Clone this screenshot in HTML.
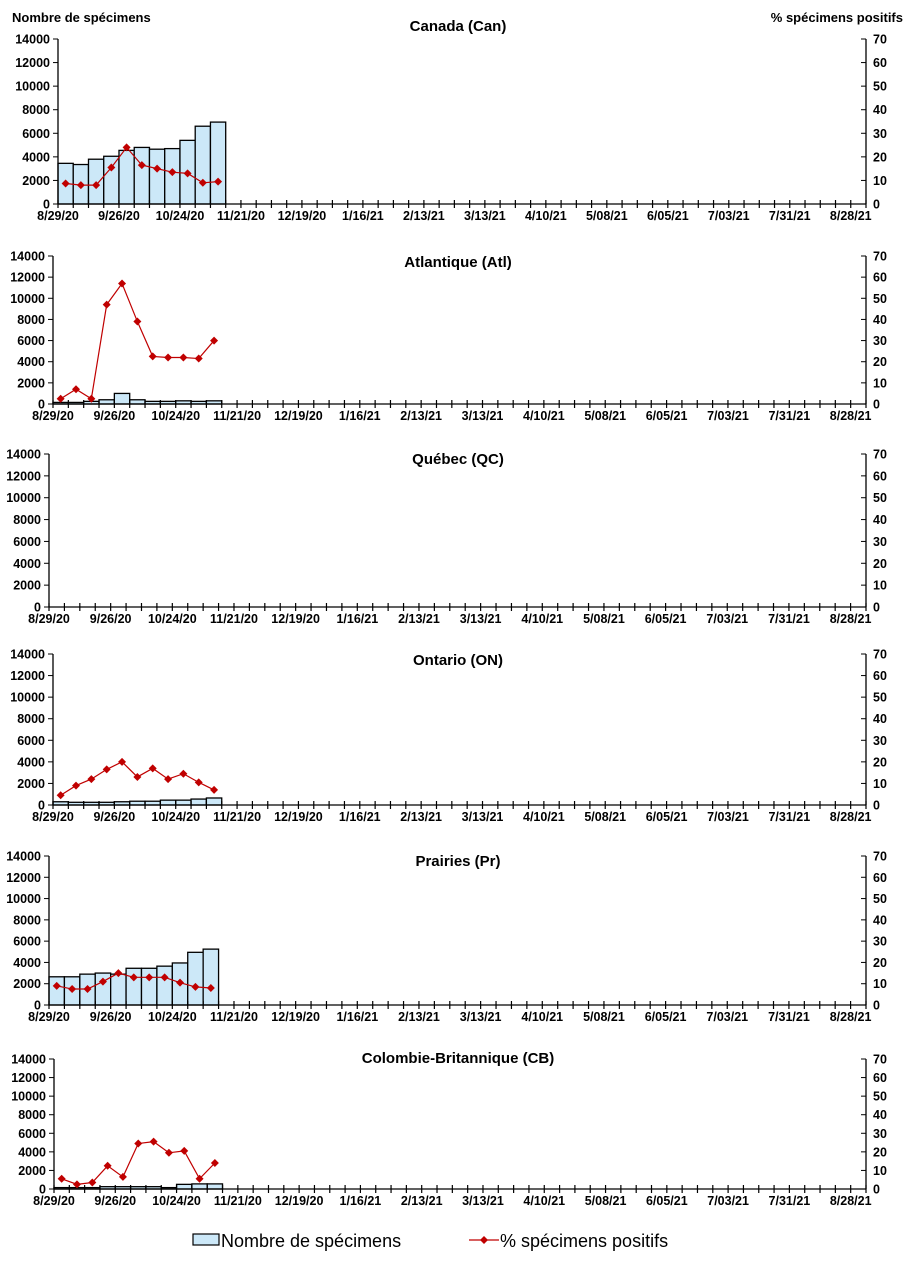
<!DOCTYPE html>
<html><head><meta charset="utf-8"><style>
body{margin:0;background:#fff;}
svg{display:block;font-family:"Liberation Sans",Arial,sans-serif;}
</style></head><body>
<svg id="chart" width="910" height="1262" viewBox="0 0 910 1262"></svg>
<script>
const dateLabels=["8/29/20","9/26/20","10/24/20","11/21/20","12/19/20","1/16/21","2/13/21","3/13/21","4/10/21","5/08/21","6/05/21","7/03/21","7/31/21","8/28/21"];
const leftTicks=[0,2000,4000,6000,8000,10000,12000,14000];
const rightTicks=[0,10,20,30,40,50,60,70];
const panelNames=["Canada (Can)","Atlantique (Atl)","Québec (QC)","Ontario (ON)","Prairies (Pr)","Colombie-Britannique (CB)"];
const countsCan=[3450,3350,3800,4050,4550,4800,4650,4700,5400,6600,6950];
const pctCan=[8.7,8,8,15.5,24,16.5,15,13.5,13,9,9.5];
const countsAtl=[150,150,250,400,1000,400,250,250,300,250,300];
const pctAtl=[2.5,7,2.5,47,57,39,22.5,22,22,21.5,30];
const countsQC=[];
const pctQC=[];
const countsON=[300,250,250,250,300,350,350,450,450,550,650];
const pctON=[4.5,9,12,16.5,20,13,17,12,14.5,10.5,7];
const countsPr=[2650,2650,2900,3000,2900,3450,3450,3650,3950,4950,5250];
const pctPr=[9,7.5,7.5,11,15,13,13,13,10.5,8.5,8];
const countsCB=[150,150,150,250,250,250,250,150,500,550,550];
const pctCB=[5.5,2.5,3.5,12.5,6.5,24.5,25.5,19.5,20.5,5.5,14];
const allCounts=[countsCan,countsAtl,countsQC,countsON,countsPr,countsCB];
const allPct=[pctCan,pctAtl,pctQC,pctON,pctPr,pctCB];
const geo=[{l:58,t:39,b:204,ty:26},{l:53,t:256,b:404,ty:262},{l:49,t:454,b:607,ty:459},{l:53,t:654,b:805,ty:660},{l:49,t:856,b:1005,ty:861},{l:54,t:1059,b:1189,ty:1058}];
const RIGHT=866,NSLOT=53;
const NS="http://www.w3.org/2000/svg";
const svg=document.getElementById('chart');
function mk(tag,attrs,parent){const e=document.createElementNS(NS,tag);for(const k in attrs)e.setAttribute(k,attrs[k]);(parent||svg).appendChild(e);return e;}
function txt(s,attrs,parent){const e=mk('text',attrs,parent);e.textContent=s;return e;}
geo.forEach((g,pi)=>{
  const grp=mk('g',{});
  
  
  const sw=(RIGHT-g.l)/NSLOT;
  const x=i=>g.l+i*sw;
  const yL=v=>g.b-(v/14000)*(g.b-g.t);
  const yR=v=>g.b-(v/70)*(g.b-g.t);
  const t=txt(panelNames[pi],{x:458,y:g.ty+5,'text-anchor':'middle','font-size':15,'font-weight':'bold'},grp);
  
  
  allCounts[pi].forEach((v,i)=>{
    const r=mk('rect',{x:x(i),y:yL(v),width:sw,height:g.b-yL(v),fill:'#cce8f8',stroke:'#000','stroke-width':1.3},grp);
    
    
  });
  mk('line',{x1:g.l,y1:g.t,x2:g.l,y2:g.b,stroke:'#000','stroke-width':1.3},grp);
  mk('line',{x1:RIGHT,y1:g.t,x2:RIGHT,y2:g.b,stroke:'#000','stroke-width':1.3},grp);
  mk('line',{x1:g.l,y1:g.b,x2:RIGHT,y2:g.b,stroke:'#000','stroke-width':1.3},grp);
  leftTicks.forEach(v=>{
    mk('line',{x1:g.l-5,y1:yL(v),x2:g.l,y2:yL(v),stroke:'#000'},grp);
    const lt=txt(v,{x:g.l-8,y:yL(v)+4.5,'text-anchor':'end','font-size':12.5,'font-weight':'bold'},grp);
    
    
  });
  rightTicks.forEach(v=>{
    mk('line',{x1:RIGHT-5,y1:yR(v),x2:RIGHT,y2:yR(v),stroke:'#000'},grp);
    const rt=txt(v,{x:RIGHT+7,y:yR(v)+4.5,'font-size':12.5,'font-weight':'bold'},grp);
    
    
  });
  for(let i=0;i<=NSLOT;i++){mk('line',{x1:x(i),y1:g.b-4,x2:x(i),y2:g.b+4,stroke:'#000','stroke-width':1.2},grp);}
  dateLabels.forEach((d,k)=>{
    const xt=txt(d,{x:x(k*4),y:g.b+16,'text-anchor':'middle','font-size':12.5,'font-weight':'bold'},grp);
    
    
  });
  const p=allPct[pi];
  if(p.length){
    const pl=mk('polyline',{points:p.map((v,i)=>(x(i)+sw/2)+','+yR(v)).join(' '),fill:'none',stroke:'#c00000','stroke-width':1.2},grp);
    
    
    p.forEach((v,i)=>{
      const cx=x(i)+sw/2,cy=yR(v);
      const m=mk('polygon',{points:`${cx},${cy-4} ${cx+4},${cy} ${cx},${cy+4} ${cx-4},${cy}`,fill:'#c00000'},grp);
      
      
    });
  }
});
const yt=txt('Nombre de spécimens',{x:12,y:22,'font-size':13,'font-weight':'bold'});


const yt2=txt('% spécimens positifs',{x:903,y:22,'text-anchor':'end','font-size':13,'font-weight':'bold'});


const lg=mk('g',{});


mk('rect',{x:193,y:1234,width:26,height:11,fill:'#cce8f8',stroke:'#000','stroke-width':1.2},lg);
txt('Nombre de spécimens',{x:221,y:1247,'font-size':18},lg);
mk('line',{x1:469,y1:1240,x2:499,y2:1240,stroke:'#c00000','stroke-width':1.2},lg);
mk('polygon',{points:'484,1236 488,1240 484,1244 480,1240',fill:'#c00000'},lg);
txt('% spécimens positifs',{x:500,y:1247,'font-size':18},lg);
</script>
</body></html>
